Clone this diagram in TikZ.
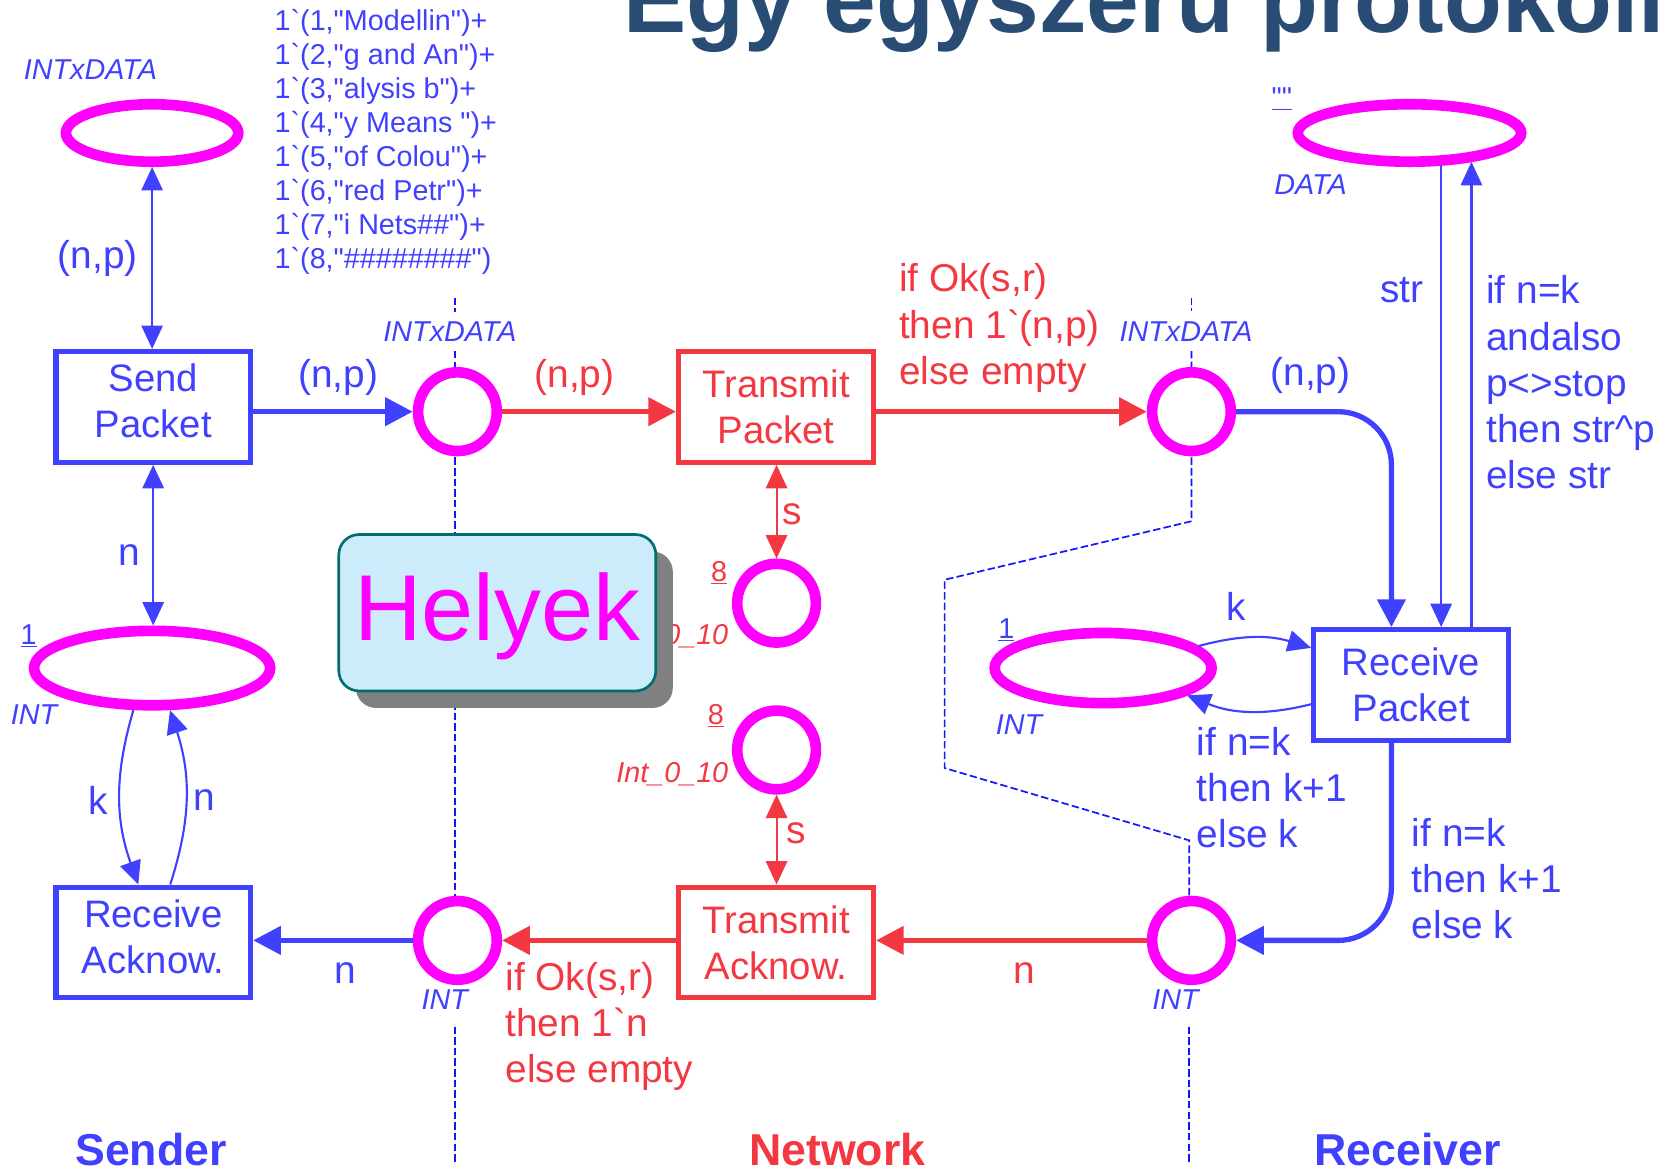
\documentclass[tikz,border=0pt]{standalone}
\usepackage{fontspec}
\setmainfont{Liberation Sans}[Ligatures=TeXOff]
\usetikzlibrary{arrows.meta,shapes.geometric,shadows}

\definecolor{pblue}{RGB}{64,64,255}
\definecolor{pred}{RGB}{243,56,66}
\definecolor{pmag}{RGB}{255,0,255}
\definecolor{ptitle}{RGB}{40,76,115}
\definecolor{hfill}{RGB}{204,236,252}
\definecolor{hborder}{RGB}{0,110,110}
\definecolor{hshadow}{RGB}{128,128,128}
\definecolor{dashblue}{RGB}{20,20,255}

\newcommand{\setfs}[2]{\fontsize{#1}{#2}\selectfont}

\begin{document}
\begin{tikzpicture}[x=1pt,y=-1pt,
  place/.style={circle,draw=pmag,fill=white,line width=10pt,minimum size=74pt,inner sep=0pt},
  eplace/.style={ellipse,draw=pmag,fill=white,line width=10pt,inner sep=0pt},
  trans/.style={rectangle,draw,fill=white,line width=5pt,minimum width=183pt,minimum height=104pt,align=center,inner sep=0pt,font=\setfs{36}{43}},
  btrans/.style={trans,draw=pblue,text=pblue},
  rtrans/.style={trans,draw=pred,text=pred},
  tarc/.style={line width=5pt,-{Triangle[length=26pt,width=26pt]}},
  tharc/.style={line width=2pt,-{Triangle[length=22pt,width=20pt]}},
  dbl/.style={line width=2pt,{Triangle[length=22pt,width=20pt]}-{Triangle[length=22pt,width=20pt]}},
  bound/.style={draw=dashblue,line width=1.6pt,dash pattern=on 7pt off 3pt},
  lab/.style={inner sep=0pt,align=left,font=\setfs{36.5}{43.5}},
  blab/.style={lab,text=pblue},
  rlab/.style={lab,text=pred},
  typ/.style={inner sep=0pt,font=\setfs{27}{32}\itshape},
  btyp/.style={typ,text=pblue},
  rtyp/.style={typ,text=pred},
  mark1/.style={inner sep=0pt,font=\setfs{27}{32}},
  side/.style={inner sep=0pt,font=\setfs{42}{50}\bfseries},
  helyek/.style={rectangle,rounded corners=19pt,draw=hborder,line width=2.5pt,fill=hfill,
    minimum width=298pt,minimum height=147pt,text=pmag,font=\setfs{88}{100},inner sep=0pt,
    text height=70pt,text depth=18.5pt,
    drop shadow={shadow xshift=16pt,shadow yshift=-16pt,fill=hshadow,opacity=1}}
]
\useasboundingbox (0,0) rectangle (1568,1100);

% title
\node[anchor=base west,inner sep=0pt,font=\setfs{89}{100}\bfseries,text=ptitle] (title) at (586,31) {Egy egyszerű protokoll};

% boundaries
\draw[bound] (428,280) -- (428,293);
\draw[bound] (428,330) -- (428,926);
\draw[bound] (428,965) -- (428,1095);
\draw[bound] (1120,280) -- (1120,292);
\draw[bound] (1120,330) -- (1120,490) -- (888,545) -- (888,722) -- (1118,790) -- (1118,926);
\draw[bound] (1118,965) -- (1118,1095);

% places
\node[eplace,minimum width=162pt,minimum height=54pt] (e1) at (143,125) {};
\node[eplace,minimum width=222pt,minimum height=70pt] (e2) at (143,628) {};
\node[eplace,minimum width=210pt,minimum height=54pt] (e3) at (1325,125) {};
\node[eplace,minimum width=204pt,minimum height=66pt] (e4) at (1037,628) {};
\node[place] (p1) at (430,387) {};
\node[place] (p2) at (1120,387) {};
\node[place] (p3) at (1120,884) {};
\node[place] (p4) at (430,884) {};
\node[place] (s1) at (730,567) {};
\node[place] (s2) at (730,705) {};

% transitions
\node[btrans,text depth=12pt] (sp) at (144,382.5) {Send\\Packet};
\node[btrans,text depth=11pt] (ra) at (144,886) {Receive\\Acknow.};
\node[rtrans] (tp) at (729.5,382.5) {Transmit\\Packet};
\node[rtrans] (ta) at (729.5,886) {Transmit\\Acknow.};
\node[btrans] (rp) at (1326.5,644) {Receive\\Packet};

% sender arcs
\draw[dbl,pblue] (e1.south) -- (e1.south |- sp.north);
\draw[dbl,pblue] (sp.south) -- (sp.south |- e2.north);
\draw[tharc,pblue] (e2.-114) to[bend right=18] ([xshift=-14pt]ra.north);
\draw[tharc,pblue] ([xshift=16pt]ra.north) to[bend right=18] (e2.-67);
\draw[tarc,pblue] (sp.east |- p1.west) -- (p1.west);
\draw[tarc,pblue] (p4.west) -- (p4.west -| ra.east);

% network arcs
\draw[tarc,pred] (p1.east) -- (p1.east -| tp.west);
\draw[tarc,pred] (tp.east |- p2.west) -- (p2.west);
\draw[tarc,pred] (p3.west) -- (p3.west -| ta.east);
\draw[tarc,pred] (ta.west |- p4.east) -- (p4.east);
\draw[dbl,pred] (s1.north |- tp.south) -- (s1.north);
\draw[dbl,pred] (s2.south) -- (s2.south |- ta.north);

% receiver arcs
\draw[tarc,pblue,rounded corners=50pt] (p2.east) -| ([xshift=-18.5pt]rp.north);
\draw[tarc,pblue,rounded corners=50pt] ([xshift=-18.5pt]rp.south) |- (p3.east);
\draw[tharc,pblue] (e3.-46) -- (e3.-46 |- rp.north);
\draw[tharc,pblue] (rp.north -| e3.-25) -- (e3.-25);
\draw[tharc,pblue] (e4.13) to[bend left=16] ([yshift=35pt]rp.west);
\draw[tharc,pblue] ([yshift=-18pt]rp.west) to[bend left=18] (e4.-18);

% colour set labels
\node[btyp] (t1) at (85,65) {INTxDATA};
\node[btyp] (t2) at (423,312) {INTxDATA};
\node[btyp] (t3) at (1115,312) {INTxDATA};
\node[btyp] (t4) at (32,672) {INT};
\node[btyp] (t5) at (418,940) {INT};
\node[btyp] (t6) at (1105,940) {INT};
\node[btyp] (t7) at (958,681) {INT};
\node[btyp] (t8) at (1232,174) {DATA};
\node[rtyp] (t9) at (632,598) {Int\_0\_10};
\node[rtyp] (t10) at (632,728) {Int\_0\_10};

% initial markings
\node[mark1,text=pblue,anchor=west] (m0) at (258,134) {%
  \begin{tabular}{@{}l@{}}1`(1,"Modellin")+\\1`(2,"g and An")+\\1`(3,"alysis b")+\\1`(4,"y Means ")+\\1`(5,"of Colou")+\\1`(6,"red Petr")+\\1`(7,"i Nets\#\#")+\\1`(8,"\#\#\#\#\#\#\#\#")\end{tabular}};
\node[mark1,text=pblue] (m1) at (27,598) {\underline{1}};
\node[mark1,text=pblue] (m2) at (946,592) {\underline{1}};
\node[mark1,text=pblue] (m3) at (1205,93) {\underline{""}};
\node[mark1,text=pred] (m4) at (676,538) {\underline{8}};
\node[mark1,text=pred] (m5) at (673,673) {\underline{8}};

% arc inscriptions
\node[blab] (a1) at (92,243) {(n,p)};
\node[blab] (a2) at (122,522) {n};
\node[blab] (a3) at (92,752) {k};
\node[blab] (a4) at (192,752) {n};
\node[blab] (a5) at (318,355) {(n,p)};
\node[blab] (a6) at (325,915) {n};
\node[rlab] (a7) at (540,355) {(n,p)};
\node[rlab,anchor=west] (a8) at (845,308.5) {if Ok(s,r)\\then 1`(n,p)\\else empty};
\node[rlab] (a9) at (745,483) {s};
\node[rlab] (a10) at (748,783) {s};
\node[rlab] (a11) at (963,915) {n};
\node[rlab,anchor=west] (a12) at (475,965) {if Ok(s,r)\\then 1`n\\else empty};
\node[blab] (a13) at (1232,353) {(n,p)};
\node[blab] (a14) at (1318,273) {str};
\node[blab,anchor=west] (a15) at (1397,359.5) {if n=k\\andalso\\p<>stop\\then str\textasciicircum p\\else str};
\node[blab] (a16) at (1162,570) {k};
\node[blab,anchor=west] (a17) at (1125,740.5) {if n=k\\then k+1\\else k};
\node[blab,anchor=west] (a18) at (1327,826) {if n=k\\then k+1\\else k};

% module names
\node[side,text=pblue] (n1) at (142,1081) {Sender};
\node[side,text=pred] (n2) at (787,1081) {Network};
\node[side,text=pblue] (n3) at (1323,1081) {Receiver};

% callout
\node[helyek] (hb) at (467.5,576) {Helyek};
\end{tikzpicture}
\end{document}
